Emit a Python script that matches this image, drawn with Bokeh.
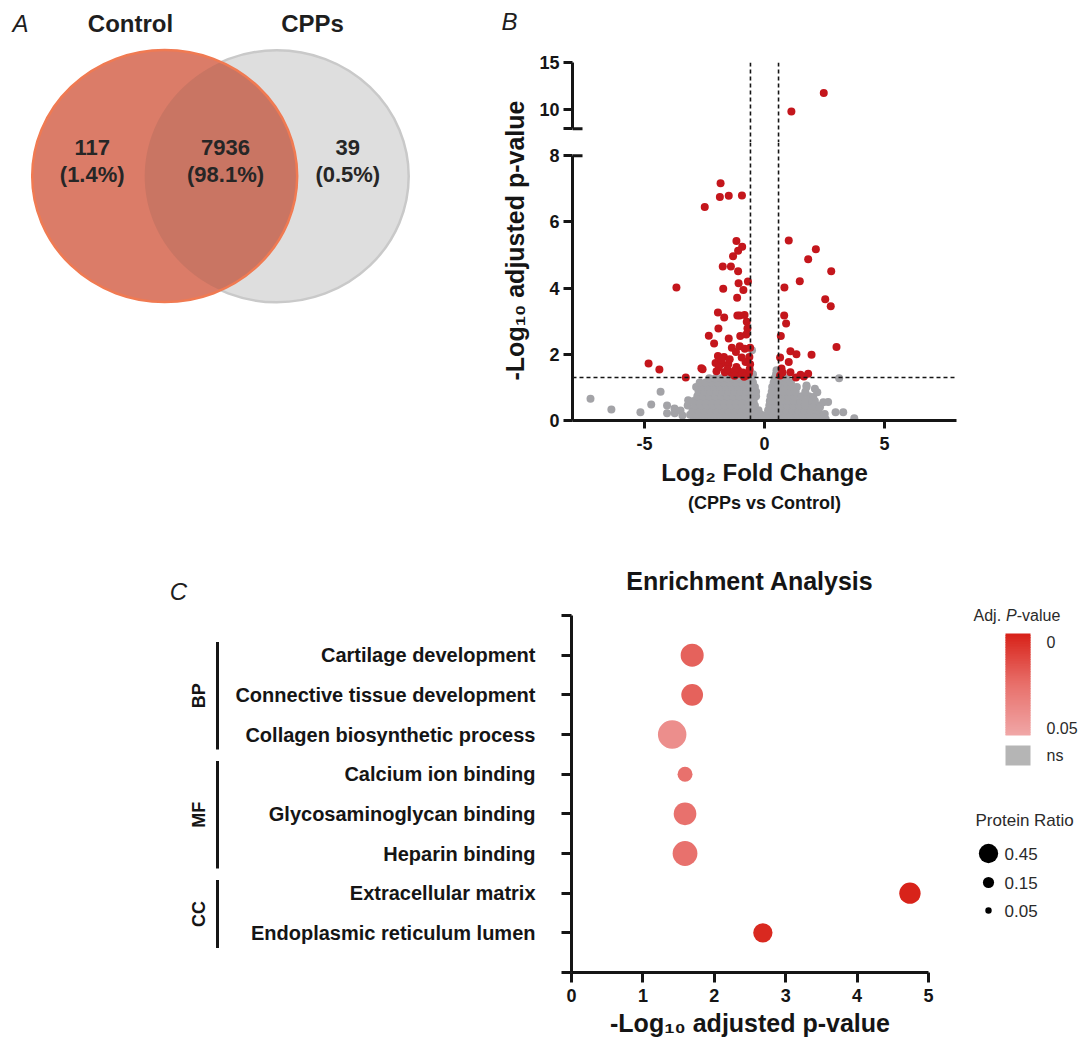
import numpy as np
from bokeh.plotting import figure
from bokeh.layouts import row, column
from bokeh.models import Range1d, FixedTicker, Span, Title, ColumnDataSource, LinearColorMapper
from bokeh.transform import transform
from bokeh.core.properties import value
from bokeh.embed import file_html
from bokeh.resources import INLINE

FONT = "Liberation Sans"
INK = "#151515"

# ---------------- Panel A: Venn data ----------------
venn_labels = ["Control", "CPPs"]
venn_counts = [117, 7936, 39]          # Control only, shared, CPPs only

# ---------------- Panel B: volcano data ----------------
red_x = [-1.83, -1.86, -1.49, -0.94, -2.49,
         -1.17, -0.93, -1.10, -1.31, -1.74, -1.40, -1.10, -0.69, -1.08, -0.88, -1.72, -3.67, -1.14,
         -1.94, -1.68, -1.13, -0.83, -1.03, -0.74, -0.71, -1.92, -2.32, -1.49, -1.01, -0.76, -2.10,
         -1.36, -1.03, -0.60, -0.82, -1.19, -1.94, -1.69, -0.63,
         -4.83, -4.38, -3.28, -2.63, -2.58, -2.04, -1.79, -1.51, -1.17, -0.79, -0.60, -2.00, -1.65,
         -1.38, -1.03, -0.75, -0.65, -1.10, -1.90, -1.55, -1.25, -0.90, -0.62, -1.45, -0.95, -1.80,
         -1.25, -0.85,
         1.01, 2.14, 1.82, 2.78, 1.47, 0.83, 2.53, 2.76, 0.82, 0.90, 0.68, 3.00, 1.08, 1.33, 1.96,
         0.65, 1.01, 0.71, 1.08, 0.65, 1.31, 1.64, 1.82, 0.75, 1.50]
red_y = [7.17, 6.75, 6.79, 6.80, 6.45,
         5.42, 5.25, 5.13, 4.96, 4.65, 4.65, 4.51, 4.20, 4.15, 3.94, 3.98, 4.02, 3.71,
         3.26, 3.11, 3.17, 3.19, 3.17, 2.98, 2.78, 2.78, 2.56, 2.48, 2.55, 2.60, 2.33,
         2.20, 2.24, 2.20, 2.17, 2.07, 1.95, 1.92, 1.92,
         1.72, 1.54, 1.30, 1.58, 1.55, 1.74, 1.72, 1.70, 1.62, 1.77, 1.70, 1.49, 1.46,
         1.44, 1.41, 1.36, 1.43, 1.52, 1.60, 1.55, 1.50, 1.45, 1.55, 1.85, 1.90, 1.85,
         1.35, 1.32,
         5.44, 5.17, 4.87, 4.51, 4.21, 4.02, 3.66, 3.45, 3.17, 2.93, 2.55, 2.22, 2.09, 2.00, 1.99,
         1.90, 1.77, 1.57, 1.46, 1.36, 1.30, 1.33, 1.41, 1.45, 1.38]
red_top_x = [1.12, 2.47]
red_top_y = [9.82, 11.78]

gray_row_y = [0.04, 0.17, 0.31, 0.45, 0.59, 0.73, 0.87, 1.01, 1.15, 1.28, 1.40]
gray_row_x = [
    [-2.95, -2.7, -2.45, -2.2, -1.95, -1.7, -1.45, -1.2, -0.95, -0.7, -0.45, -0.2, 0.05, 0.3, 0.55, 0.8, 1.05, 1.3, 1.55, 1.8, 2.05, 2.3, 2.55],
    [-3.1, -2.85, -2.6, -2.35, -2.1, -1.85, -1.6, -1.35, -1.1, -0.85, -0.6, -0.35, -0.12, 0.12, 0.38, 0.62, 0.88, 1.12, 1.38, 1.62, 1.88, 2.15, 2.4],
    [-3.0, -2.75, -2.5, -2.25, -2.0, -1.75, -1.5, -1.25, -1.0, -0.75, -0.5, -0.25, 0.15, 0.4, 0.65, 0.9, 1.15, 1.4, 1.65, 1.9, 2.2],
    [-3.2, -2.9, -2.65, -2.4, -2.15, -1.9, -1.65, -1.4, -1.15, -0.9, -0.65, -0.4, 0.2, 0.45, 0.7, 0.95, 1.2, 1.45, 1.7, 2.0, 2.3],
    [-2.95, -2.7, -2.45, -2.2, -1.95, -1.7, -1.45, -1.2, -0.95, -0.7, -0.45, 0.22, 0.47, 0.72, 0.97, 1.22, 1.5, 1.8, 2.1],
    [-2.8, -2.55, -2.3, -2.05, -1.8, -1.55, -1.3, -1.05, -0.8, -0.55, -0.35, 0.25, 0.5, 0.75, 1.0, 1.25, 1.55, 1.85],
    [-2.75, -2.5, -2.25, -2.0, -1.75, -1.5, -1.25, -1.0, -0.75, -0.5, -0.35, 0.3, 0.55, 0.8, 1.05, 1.3, 1.7],
    [-2.85, -2.6, -2.35, -2.1, -1.85, -1.6, -1.35, -1.1, -0.85, -0.6, -0.4, 0.32, 0.57, 0.82, 1.1, 1.35, 1.75],
    [-2.7, -2.45, -2.2, -1.95, -1.7, -1.45, -1.2, -0.95, -0.7, -0.48, 0.38, 0.62, 0.88, 1.1],
    [-2.3, -2.05, -1.8, -1.55, -1.3, -1.05, -0.8, -0.55, 0.42, 0.66, 0.9],
    [-1.6, -1.1, -0.7, -0.48, 0.48, 0.6],
]
gray_out_x = [-7.25, -6.38, -5.17, -4.72, -4.33, -4.06, -4.06, -3.75, -3.74, -3.42, -3.18, -3.5,
              3.11, 2.65, 2.96, 3.28, 3.74, 2.51, 2.10, 1.75, 1.68, 2.03, 2.31, 1.19, -0.52, 0.5, 2.45, 2.2]
gray_out_y = [0.66, 0.33, 0.25, 0.48, 0.87, 0.45, 0.22, 0.36, 0.22, 0.15, 0.61, 0.3,
              1.28, 0.56, 0.25, 0.25, 0.07, 0.20, 0.96, 1.06, 0.56, 0.71, 0.40, 1.01, 2.12, 1.52, 0.55, 0.85]

log2fc_cut = 0.585
padj_cut = 0.05
volc_x_ticks = [-5, 0, 5]
volc_y_ticks_low = [0, 2, 4, 6, 8]
volc_y_ticks_high = [8, 10, 15]

# ---------------- Panel C: enrichment data ----------------
terms = ["Cartilage development", "Connective tissue development", "Collagen biosynthetic process",
         "Calcium ion binding", "Glycosaminoglycan binding", "Heparin binding",
         "Extracellular matrix", "Endoplasmic reticulum lumen"]
groups = ["BP", "BP", "BP", "MF", "MF", "MF", "CC", "CC"]
neglog_padj = [1.69, 1.69, 1.41, 1.59, 1.59, 1.59, 4.74, 2.68]
protein_ratio = [0.64, 0.57, 0.98, 0.27, 0.62, 0.74, 0.55, 0.45]
ratio_legend = [0.45, 0.15, 0.05]
enrich_x_ticks = [0, 1, 2, 3, 4, 5]

# ---------------- helpers ----------------
COMMON = dict(output_backend="svg", toolbar_location=None)


def hex2rgb(h):
    h = h.lstrip("#")
    return [int(h[i:i + 2], 16) for i in (0, 2, 4)]


def make_palette(stops, n=256):
    pos = [s[0] for s in stops]
    cols = np.array([hex2rgb(s[1]) for s in stops], dtype=float)
    out = []
    for t in np.linspace(0, 1, n):
        c = [np.interp(t, pos, cols[:, k]) for k in range(3)]
        out.append("#%02x%02x%02x" % tuple(int(round(v)) for v in c))
    return out


def style_axis(ax, size="18px", tick_out=9):
    ax.axis_line_width = 3
    ax.axis_line_color = INK
    ax.major_tick_line_width = 3
    ax.major_tick_line_color = INK
    ax.major_tick_out = tick_out
    ax.major_tick_in = 0
    ax.minor_tick_line_color = None
    ax.major_label_text_font = FONT
    ax.major_label_text_font_style = "bold"
    ax.major_label_text_font_size = size
    ax.major_label_text_color = INK
    ax.axis_label_text_font = FONT
    ax.axis_label_text_font_style = "bold"
    ax.axis_label_text_color = INK


def bare(p):
    p.grid.visible = False
    p.outline_line_color = None


def txt(p, x, y, t, size, style="bold", align="center", angle=0, color=INK, baseline="middle"):
    p.text(x=x, y=y, text=t, text_font=value(FONT), text_font_size=size, text_font_style=style,
           text_align=align, text_baseline=baseline, angle=angle, text_color=color)


# ================= Panel A (Venn) =================
W_A, H1 = 532, 530
pa = figure(width=W_A, height=H1, x_range=Range1d(0, W_A), y_range=Range1d(H1, 0),
            x_axis_location=None, y_axis_location=None, min_border=0, title_location=None, **COMMON)
bare(pa)

ELL_L = (164.2, 175.6, 265.0, 252.0)
ELL_R = (276.2, 175.8, 264.0, 252.0)


def ell_pts(cx, cy, w, h, n=1440):
    t = np.linspace(0, 2 * np.pi, n, endpoint=False)
    return cx + w / 2 * np.cos(t), cy + h / 2 * np.sin(t)


def inside(x, y, cx, cy, w, h):
    return ((x - cx) / (w / 2)) ** 2 + ((y - cy) / (h / 2)) ** 2 <= 1


pa.ellipse(x=[ELL_R[0]], y=[ELL_R[1]], width=[ELL_R[2]], height=[ELL_R[3]],
           fill_color="#DEDEDE", line_color="#C9C9C9", line_width=2.5)
pa.ellipse(x=[ELL_L[0]], y=[ELL_L[1]], width=[ELL_L[2]], height=[ELL_L[3]],
           fill_color="#DB7C68", line_color=None)
ax_, ay_ = ell_pts(*ELL_L)
bx_, by_ = ell_pts(*ELL_R)
m1 = inside(ax_, ay_, *ELL_R)
m2 = inside(bx_, by_, *ELL_L)
lx = np.concatenate([ax_[m1], bx_[m2]])
ly = np.concatenate([ay_[m1], by_[m2]])
order = np.argsort(np.arctan2(ly - ly.mean(), lx - lx.mean()))
pa.patch(x=list(lx[order]), y=list(ly[order]), fill_color="#C97563", line_color=None)
pa.ellipse(x=[ELL_L[0]], y=[ELL_L[1]], width=[ELL_L[2]], height=[ELL_L[3]],
           fill_color=None, line_color="#F07A52", line_width=2.5)

total = sum(venn_counts)
cnt_txt = [str(c) for c in venn_counts]
pct_txt = ["(%.1f%%)" % (100.0 * c / total) for c in venn_counts]
venn_tx = [91.7, 225.0, 347.3]
txt(pa, venn_tx, [146.7] * 3, cnt_txt, "22px", color="#262626")
txt(pa, venn_tx, [173.5] * 3, pct_txt, "22px", color="#262626")
txt(pa, [130, 312], [23, 23], venn_labels, "24px", color="#1e1e1e")
txt(pa, [20], [22.5], ["A"], "24px", style="italic", color="#1e1e1e")
txt(pa, [509], [21], ["B"], "24px", style="italic", color="#1e1e1e")
# y-axis title of the volcano plot (spans both broken segments)
txt(pa, [514], [240], ["-Log\u2081\u2080 adjusted p-value"], "25px", angle=np.pi / 2)

# ================= Panel B (volcano, broken y axis) =================
VOL_W = 434
XR = Range1d(-8, 8)
TOP_H, TOP_BT = 142, 62
LOW_H, LOW_BB = 388, 110
low_top = (LOW_H - LOW_BB) / 33.1       # data value at top of lower frame
top_lo = 15 - (TOP_H - TOP_BT) / 9.46   # data value at bottom of upper frame

pt = figure(width=VOL_W, height=TOP_H, x_range=XR, y_range=Range1d(top_lo, 15),
            x_axis_location=None, min_border_left=40, min_border_right=10,
            min_border_top=TOP_BT, min_border_bottom=0, title_location=None, **COMMON)
bare(pt)
style_axis(pt.yaxis[0])
pt.yaxis.ticker = FixedTicker(ticks=volc_y_ticks_high)
pt.yaxis.major_label_overrides = {8: ""}
pt.yaxis.bounds = (8, 15)
pt.yaxis.major_label_standoff = 4

pb = figure(width=VOL_W, height=LOW_H, x_range=XR, y_range=Range1d(0, low_top),
            min_border_left=40, min_border_right=10, min_border_top=0, min_border_bottom=LOW_BB,
            title_location=None, **COMMON)
bare(pb)
style_axis(pb.yaxis[0])
style_axis(pb.xaxis[0], tick_out=8)
pb.yaxis.ticker = FixedTicker(ticks=volc_y_ticks_low)
pb.yaxis.bounds = (0, 8)
pb.yaxis.major_label_standoff = 4
pb.xaxis.ticker = FixedTicker(ticks=volc_x_ticks)
pb.xaxis.major_label_overrides = {t: str(t) for t in volc_x_ticks}
pb.xaxis.major_label_standoff = 8
pb.xaxis.axis_label = "Log\u2082 Fold Change"
pb.xaxis.axis_label_text_font_size = "24px"
pb.xaxis.axis_label_standoff = 6
pb.add_layout(Title(text="(CPPs vs Control)", align="center", text_font=FONT,
                    text_font_size="18px", text_font_style="bold", text_color=INK, standoff=4), "below")

for p in (pt, pb):
    for loc in (-log2fc_cut, log2fc_cut):
        p.add_layout(Span(location=loc, dimension="height", line_dash="4 3",
                          line_width=1.6, line_color=INK))
    # break caps (inner half of the end ticks at 8)
    p.segment(x0=[-8], y0=[8], x1=[-8 + 10 / 24.0], y1=[8], line_width=3, line_color=INK)
pb.add_layout(Span(location=-np.log10(padj_cut), dimension="width", line_dash="4 3",
                   line_width=1.6, line_color=INK))

gx, gy = [], []
for yv, xs in zip(gray_row_y, gray_row_x):
    gx += xs
    gy += [yv] * len(xs)
gx += gray_out_x
gy += gray_out_y
GRAY, RED = "#A3A3A7", "#C4161C"
pb.scatter(x=gx, y=gy, size=8, fill_color=GRAY, line_color=None)
pb.scatter(x=red_x, y=red_y, size=8, fill_color=RED, line_color=None)
pt.scatter(x=red_top_x, y=red_top_y, size=8, fill_color=RED, line_color=None)

volc = column(pt, pb)
row1 = row(pa, volc)

# ================= Panel C (enrichment) =================
H2 = 1045 - H1
ROW2_TOP = H1
C_BT, C_BB = 22, 73                      # shared top/bottom borders of row-2 plots
FRAME_TOP = ROW2_TOP + C_BT
FRAME_BOT = 1045 - C_BB
PPU = 357 / 9.0
YTOP = (FRAME_BOT - FRAME_TOP) / PPU     # data value at top of the frame


def px2val(py):
    return (FRAME_BOT - py) / PPU


mapper = LinearColorMapper(palette=make_palette([(0, "#D8231A"), (0.5, "#E8706B"), (1.0, "#F0A6A6")]),
                           low=0, high=padj_cut)

ypos = [len(terms) - i for i in range(len(terms))]
padj = [10 ** (-v) for v in neglog_padj]
sizes = [28.8 * np.sqrt(r) for r in protein_ratio]
src = ColumnDataSource(dict(x=neglog_padj, y=ypos, padj=padj, size=sizes, term=terms))

ROWKW = dict(min_border_top=C_BT, min_border_bottom=C_BB, title_location=None, **COMMON)

# group brackets column
BK_W = 222
pk = figure(width=BK_W, height=H2, x_range=Range1d(0, BK_W), y_range=Range1d(0, YTOP),
            x_axis_location=None, y_axis_location=None, min_border_left=0, min_border_right=0, **ROWKW)
bare(pk)
for g in ["BP", "MF", "CC"]:
    ys = [ypos[i] for i in range(len(terms)) if groups[i] == g]
    top, bot = max(ys) + 0.33, min(ys) - 0.38
    pk.segment(x0=[217], y0=[top], x1=[217], y1=[bot], line_width=3, line_color=INK)
    txt(pk, [198], [(top + bot) / 2], [g], "18px", angle=np.pi / 2)
txt(pk, [178], [px2val(591)], ["C"], "24px", style="italic", color="#1e1e1e")

EN_W = 738
pc = figure(width=EN_W, height=H2, x_range=Range1d(0, 5), y_range=Range1d(0, YTOP),
            min_border_left=EN_W - 357 - 32, min_border_right=32, **ROWKW)
bare(pc)
style_axis(pc.yaxis[0], size="20px", tick_out=10)
style_axis(pc.xaxis[0], size="18px", tick_out=10)
pc.yaxis.bounds = (0, 9)
pc.yaxis.ticker = FixedTicker(ticks=list(range(0, 10)))
ov = {0: "", 9: ""}
for i, t in enumerate(terms):
    ov[ypos[i]] = t
pc.yaxis.major_label_overrides = ov
pc.yaxis.major_label_standoff = 26
pc.xaxis.ticker = FixedTicker(ticks=enrich_x_ticks)
pc.xaxis.major_label_standoff = 6
pc.xaxis.axis_label = "-Log\u2081\u2080 adjusted p-value"
pc.xaxis.axis_label_text_font_size = "25px"
pc.xaxis.axis_label_standoff = 4
txt(pc, [2.5], [px2val(580)], ["Enrichment Analysis"], "25px")
pc.scatter(x="x", y="y", size="size", source=src, fill_color=transform("padj", mapper), line_color=None)

# legend column
LG_W = 1080 - BK_W - EN_W
pl = figure(width=LG_W, height=H2, x_range=Range1d(960, 960 + LG_W), y_range=Range1d(FRAME_BOT, FRAME_TOP),
            x_axis_location=None, y_axis_location=None, min_border_left=0, min_border_right=0, **ROWKW)
bare(pl)
LEG_COL = "#2a2a2a"
txt(pl, [973], [615], ["Adj. "], "16px", style="normal", align="left", color=LEG_COL)
txt(pl, [1005.5], [615], ["P"], "16px", style="italic", align="left", color=LEG_COL)
txt(pl, [1016.2], [615], ["-value"], "16px", style="normal", align="left", color=LEG_COL)
nseg = 60
bar_top, bar_bot = 633.0, 735.0
edges = np.linspace(bar_top, bar_bot, nseg + 1)
gsrc = ColumnDataSource(dict(top=list(edges[:-1]), bottom=list(np.minimum(edges[1:] + 1.0, bar_bot)),
                             p=list(np.linspace(0, padj_cut, nseg))))
pl.quad(left=1005, right=1030, top="top", bottom="bottom", source=gsrc,
        fill_color=transform("p", mapper), line_color=None)
pl.quad(left=[1005], right=[1030], top=[745], bottom=[765], fill_color="#B5B5B5", line_color=None)
txt(pl, [1046, 1046, 1046], [641, 727, 755], ["0", "%g" % padj_cut, "ns"], "16px",
    style="normal", align="left", color=LEG_COL)
txt(pl, [975], [820], ["Protein Ratio"], "17px", style="normal", align="left", color=LEG_COL)
leg_y = [853, 882, 910]
pl.scatter(x=[988] * 3, y=leg_y, size=[28.8 * np.sqrt(r) for r in ratio_legend],
           fill_color="black", line_color=None)
txt(pl, [1004] * 3, leg_y, ["%g" % r for r in ratio_legend], "17px", style="normal",
    align="left", color=LEG_COL)

row2 = row(pk, pc, pl)
layout = column(row1, row2)

open("out.html", "w").write(file_html(layout, INLINE))
